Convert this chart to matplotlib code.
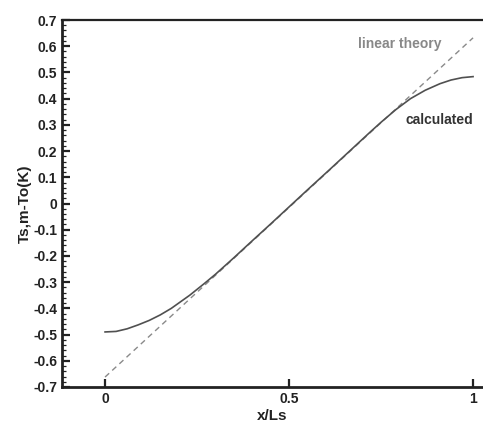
import matplotlib
matplotlib.use("Agg")
import matplotlib.pyplot as plt
from matplotlib.ticker import MultipleLocator

plt.rcParams['font.family'] = ['Liberation Sans', 'DejaVu Sans']

# Data
calc_x = [0.0, 0.03, 0.06, 0.09, 0.12, 0.15, 0.18, 0.23, 0.27, 0.30, 0.35, 0.39, 0.45, 0.50,
          0.55, 0.61, 0.67, 0.72, 0.75, 0.79, 0.83, 0.87, 0.91, 0.94, 0.97, 1.0]
calc_y = [-0.490, -0.488, -0.478, -0.463, -0.446, -0.425, -0.400, -0.350, -0.305, -0.270,
          -0.207, -0.155, -0.078, -0.013, 0.052, 0.129, 0.207, 0.272, 0.310, 0.358,
          0.400, 0.432, 0.457, 0.471, 0.480, 0.484]
lin_x = [0.0, 1.0]
lin_y = [-0.662, 0.632]

xticks = [0, 0.5, 1]
xtick_labels = ['0', '0.5', '1']
yticks = [-0.7, -0.6, -0.5, -0.4, -0.3, -0.2, -0.1, 0, 0.1, 0.2, 0.3, 0.4, 0.5, 0.6, 0.7]
ytick_labels = ['-0.7', '-0.6', '-0.5', '-0.4', '-0.3', '-0.2', '-0.1', '0',
                '0.1', '0.2', '0.3', '0.4', '0.5', '0.6', '0.7']

fig = plt.figure(figsize=(4.83, 4.25), dpi=100)
ax = fig.add_axes([62/483, 38/425, 1 - 62/483, (387-20)/425])

ax.plot(lin_x, lin_y, color='#8a8a8a', lw=1.0, dashes=(4, 3))
ax.plot(calc_x, calc_y, color='#505050', lw=1.2)

ax.set_xlim(-0.117, 1.027)
ax.set_ylim(-0.7, 0.7)

ax.set_xticks(xticks)
ax.set_xticklabels(xtick_labels)
ax.set_yticks(yticks)
ax.set_yticklabels(ytick_labels)
ax.yaxis.set_minor_locator(MultipleLocator(0.02))

ax.tick_params(axis='both', which='major', direction='in', length=6, width=1.6,
               labelsize=10, color='#222222')
ax.tick_params(axis='y', which='minor', direction='in', length=3, width=0.9, color='#222222')
for lab in ax.get_xticklabels() + ax.get_yticklabels():
    lab.set_fontweight('bold')
    lab.set_color('#222222')

ax.spines['right'].set_visible(False)
ax.spines['left'].set_linewidth(2.0)
ax.spines['bottom'].set_linewidth(2.0)
ax.spines['top'].set_linewidth(1.6)
for s in ax.spines.values():
    s.set_color('#222222')

ax.set_xlabel('x/Ls', fontsize=11, fontweight='bold', color='#222222', labelpad=2)
ax.set_ylabel('Ts,m-To(K)', fontsize=11, fontweight='bold', color='#222222', labelpad=1)

ax.text(0.802, 0.61, 'linear theory', fontsize=10, fontweight='bold', color='#888888',
        ha='center', va='center')
ax.text(0.909, 0.32, 'calculated', fontsize=10, fontweight='bold', color='#333333',
        ha='center', va='center')

fig.savefig('out.png', dpi=100)
